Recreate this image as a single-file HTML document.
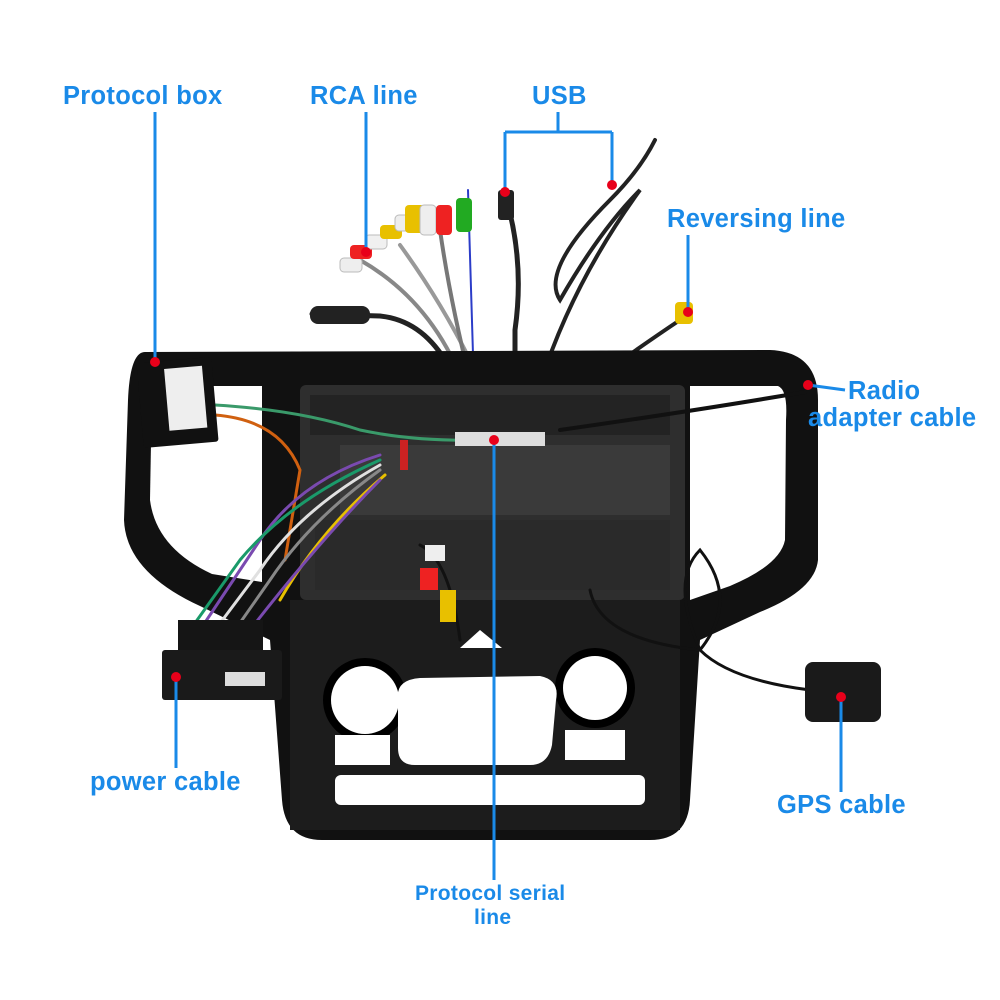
<!DOCTYPE html>
<html><head><style>
body{margin:0;background:#fff;width:1000px;height:1000px;overflow:hidden;position:relative;font-family:"Liberation Sans",sans-serif}
.l{position:absolute;color:#1a8ae8;font-weight:bold;font-size:25.5px;white-space:nowrap;letter-spacing:0.3px}
</style></head><body>
<svg width="1000" height="1000" style="position:absolute;left:0;top:0">
<g fill="none" stroke-linecap="round">
<path d="M312,314 L380,316 Q420,320 445,360 L470,410" stroke="#222" stroke-width="5"/>
<path d="M505,195 Q525,260 515,330 L515,420" stroke="#222" stroke-width="5"/>
<path d="M655,140 Q640,170 610,200 Q540,270 560,300 Q600,230 640,190 Q560,300 530,420" stroke="#222" stroke-width="4"/>
<path d="M680,320 Q620,360 540,420" stroke="#222" stroke-width="4"/>
<path d="M360,260 Q430,300 462,380 L465,420" stroke="#888" stroke-width="4"/>
<path d="M400,245 Q440,300 470,360" stroke="#999" stroke-width="4"/>
<path d="M440,230 Q450,300 470,380" stroke="#777" stroke-width="4"/>
<path d="M468,190 L475,420" stroke="#2b3cc8" stroke-width="2"/>
</g>
<g>
<rect x="340" y="258" width="22" height="14" rx="4" fill="#eee" stroke="#bbb"/>
<rect x="350" y="245" width="22" height="14" rx="4" fill="#e22" />
<rect x="365" y="235" width="22" height="14" rx="4" fill="#f0f0f0" stroke="#bbb"/>
<rect x="380" y="225" width="22" height="14" rx="4" fill="#e8c000"/>
<rect x="395" y="215" width="20" height="16" rx="4" fill="#eee" stroke="#bbb"/>
<rect x="405" y="205" width="20" height="28" rx="4" fill="#e8c000"/>
<rect x="420" y="205" width="16" height="30" rx="4" fill="#eee" stroke="#bbb"/>
<rect x="436" y="205" width="16" height="30" rx="4" fill="#e22"/>
<rect x="456" y="198" width="16" height="34" rx="4" fill="#2a2"/>
<rect x="498" y="190" width="16" height="30" rx="3" fill="#222"/>
<rect x="310" y="306" width="60" height="18" rx="8" fill="#222"/>
<rect x="675" y="302" width="18" height="22" rx="4" fill="#e8c000"/>
</g>
<path d="M145,352 L770,350 Q818,352 818,400 L818,560 Q815,590 760,612 L700,640 L690,800 Q688,840 650,840 L322,840 Q285,840 282,800 L270,640 L200,606 Q126,572 124,520 L128,400 Q130,352 145,352 Z" fill="#111"/>
<path d="M152,386 L262,386 L262,582 L212,574 Q156,548 150,500 Z" fill="#fff"/>
<path d="M690,386 L778,386 Q788,390 786,420 L785,540 Q780,565 730,586 L690,600 Z" fill="#fff"/>
<rect x="300" y="385" width="385" height="215" rx="6" fill="#2e2e2e"/>
<rect x="310" y="395" width="360" height="40" fill="#232323"/>
<rect x="340" y="445" width="330" height="70" fill="#3a3a3a"/>
<rect x="315" y="520" width="355" height="70" fill="#2a2a2a"/>
<rect x="290" y="600" width="390" height="230" fill="#1c1c1c"/>
<circle cx="365" cy="700" r="42" fill="#000"/><circle cx="365" cy="700" r="34" fill="#fff"/>
<circle cx="595" cy="688" r="40" fill="#000"/><circle cx="595" cy="688" r="32" fill="#fff"/>
<path d="M460,648 L480,630 L502,648 Z" fill="#fff"/>
<path d="M398,700 Q395,680 420,678 L540,676 Q560,680 556,700 L552,745 Q548,765 530,765 L415,765 Q398,765 398,748 Z" fill="#fff"/>
<rect x="335" y="735" width="55" height="30" fill="#fff"/>
<rect x="565" y="730" width="60" height="30" fill="#fff"/>
<rect x="335" y="775" width="310" height="30" rx="6" fill="#fff"/>
<g fill="none" stroke-width="3" stroke-linecap="round">
<path d="M215,405 Q300,410 360,430 Q430,445 520,438" stroke="#3a9a6a"/>
<path d="M215,415 Q280,420 300,470 L285,560" stroke="#d06010"/>
<path d="M380,455 Q300,480 260,540 L200,630" stroke="#7a4ab0"/>
<path d="M380,460 Q290,500 240,560 L190,630" stroke="#1a9a6a"/>
<path d="M380,465 Q300,510 260,570 L215,630" stroke="#e0e0e0"/>
<path d="M380,470 Q310,520 270,580 L235,630" stroke="#888"/>
<path d="M385,475 Q320,530 280,600" stroke="#e8c000"/>
<path d="M380,480 Q320,540 250,630" stroke="#7a4ab0"/>
<path d="M560,430 Q700,410 805,392" stroke="#111" stroke-width="4"/>
<path d="M590,590 Q600,640 700,650 Q740,600 700,550 Q670,580 700,650 Q730,680 810,690" stroke="#111" stroke-width="3"/>
<path d="M420,545 Q450,560 460,640" stroke="#111" stroke-width="3"/>
</g>
<rect x="425" y="545" width="20" height="16" fill="#eee"/>
<rect x="420" y="568" width="18" height="22" fill="#e22"/>
<rect x="440" y="590" width="16" height="32" fill="#e8c000"/>
<rect x="400" y="440" width="8" height="30" fill="#c22"/>
<rect x="455" y="432" width="90" height="14" fill="#ddd"/>
<rect x="140" y="360" width="75" height="85" rx="3" fill="#111" transform="rotate(-5 177 402)"/>
<rect x="167" y="368" width="38" height="62" fill="#eee" transform="rotate(-5 177 402)"/>
<rect x="178" y="620" width="85" height="35" fill="#151515"/>
<rect x="162" y="650" width="120" height="50" rx="3" fill="#1a1a1a"/>
<rect x="225" y="672" width="40" height="14" fill="#ddd"/>
<rect x="805" y="662" width="76" height="60" rx="8" fill="#1a1a1a"/>
<g stroke="#1a8ae8" stroke-width="3" fill="none">
<path d="M155,112 L155,360"/><path d="M366,112 L366,250"/>
<path d="M558,112 L558,132 M505,132 L612,132 M505,132 L505,190 M612,132 L612,185"/>
<path d="M688,235 L688,312"/><path d="M808,385 L845,390"/>
<path d="M176,680 L176,768"/><path d="M841,700 L841,792"/><path d="M494,440 L494,880"/>
</g>
<g fill="#e8001a">
<circle cx="155" cy="362" r="5"/><circle cx="366" cy="252" r="5"/><circle cx="505" cy="192" r="5"/><circle cx="612" cy="185" r="5"/>
<circle cx="688" cy="312" r="5"/><circle cx="808" cy="385" r="5"/><circle cx="176" cy="677" r="5"/><circle cx="841" cy="697" r="5"/><circle cx="494" cy="440" r="5"/>
</g>
</svg>
<div class="l" style="left:63px;top:82px">Protocol box</div>
<div class="l" style="left:310px;top:82px">RCA line</div>
<div class="l" style="left:532px;top:82px">USB</div>
<div class="l" style="left:667px;top:205px">Reversing line</div>
<div class="l" style="left:848px;top:377px">Radio</div>
<div class="l" style="left:808px;top:404px">adapter cable</div>
<div class="l" style="left:90px;top:768px">power cable</div>
<div class="l" style="left:777px;top:791px">GPS cable</div>
<div class="l" style="left:415px;top:882px;font-size:21px">Protocol serial</div>
<div class="l" style="left:474px;top:906px;font-size:21px">line</div>
</body></html>
